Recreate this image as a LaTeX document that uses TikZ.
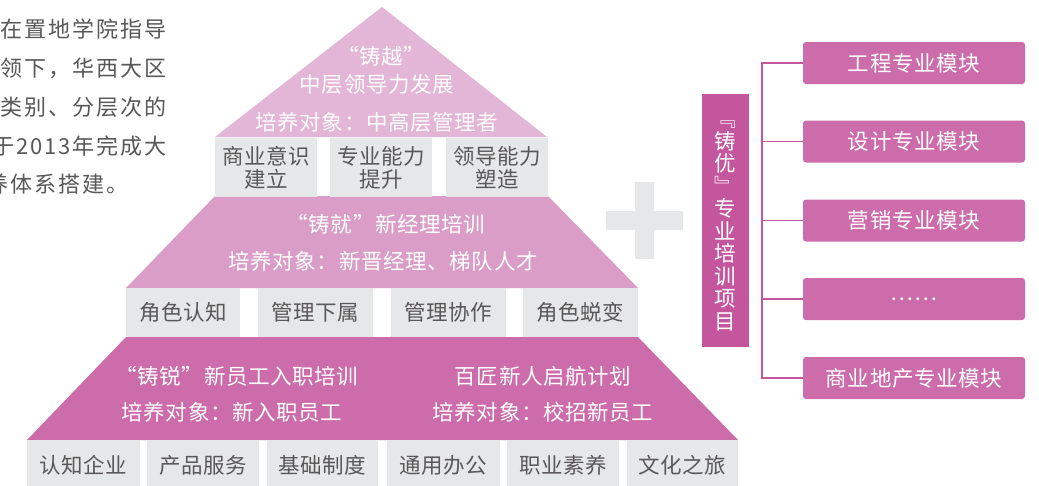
\documentclass[tikz,border=0pt]{standalone}
\usepackage{fontspec}
\setmainfont{Noto Sans CJK SC}
\newfontfamily\cjk{Noto Sans CJK SC}[LetterSpace=3]
\newfontfamily\cjkpara{Noto Sans CJK SC}[LetterSpace=9]
\newfontfamily\cjkplain{Noto Sans CJK SC}
\definecolor{tierA}{HTML}{E3B5D6}
\definecolor{tierB}{HTML}{DA9DC7}
\definecolor{tierC}{HTML}{CC6CAA}
\definecolor{barpink}{HTML}{C4569E}
\definecolor{boxgray}{HTML}{E6E7E8}
\definecolor{txtgray}{HTML}{595757}
\tikzset{
  t20/.style={font=\cjk\fontsize{21.5}{23}\selectfont, inner sep=0pt},
  wtxt/.style={t20, text=white},
  ptxt/.style={font=\cjkpara\fontsize{22}{24}\selectfont, inner sep=0pt, text=txtgray},
  gbox/.style={t20, fill=boxgray, text=txtgray, align=center},
  rbox/.style={t20, fill=tierC, text=white, rounded corners=3pt, minimum width=222, minimum height=42},
  conn/.style={draw=barpink, line width=1.3pt},
}
\begin{document}
\begin{tikzpicture}[x=1pt,y=-1pt]
\useasboundingbox (0,0) rectangle (1039,485);
\fill[white] (0,0) rectangle (1039,485);

% left paragraph (clipped at left edge)
\begin{scope}
\clip (0,0) rectangle (200,485);
\node[ptxt, anchor=east] (p1) at (167,29) {在置地学院指导};
\node[ptxt, anchor=east] (p2) at (167,68) {引领下，华西大区};
\node[ptxt, anchor=east] (p3) at (167,107) {分类别、分层次的};
\node[ptxt, anchor=east] (p4) at (167,146) {并于2013年完成大};
\node[ptxt, anchor=west] (p5) at (-14,184) {养体系搭建。};
\end{scope}

% pyramid tiers
\fill[tierA] (382,7) -- (547,137) -- (215,137) -- cycle;
\fill[tierB] (215,196) -- (548,196) -- (638,288) -- (126,288) -- cycle;
\fill[tierC] (126,337) -- (638,337) -- (738,440) -- (27,440) -- cycle;

% top tier
\node[wtxt] (a1) at (381,56) {“铸越”};
\node[wtxt] (a2) at (377,84) {中层领导力发展};
\node[wtxt] (a3) at (377,122) {培养对象：中高层管理者};
\node[gbox, minimum width=102, minimum height=59] (ab1) at (266,167.5) {商业意识\\建立};
\node[gbox, minimum width=102, minimum height=59] (ab2) at (381,167.5) {专业能力\\提升};
\node[gbox, minimum width=102, minimum height=59] (ab3) at (497,167.5) {领导能力\\塑造};

% middle tier
\node[wtxt] (b1) at (386,224) {“铸就”新经理培训};
\node[wtxt] (b2) at (383,261) {培养对象：新晋经理、梯队人才};
\node[gbox, minimum width=114, minimum height=49] (bb1) at (183,312.5) {角色认知};
\node[gbox, minimum width=115, minimum height=49] (bb2) at (315.5,312.5) {管理下属};
\node[gbox, minimum width=115, minimum height=49] (bb3) at (448.5,312.5) {管理协作};
\node[gbox, minimum width=115, minimum height=49] (bb4) at (580.5,312.5) {角色蜕变};

% bottom tier
\node[wtxt] (c1) at (237,376) {“铸锐”新员工入职培训};
\node[wtxt] (c2) at (232,412) {培养对象：新入职员工};
\node[wtxt] (c3) at (543,376) {百匠新人启航计划};
\node[wtxt] (c4) at (543,412) {培养对象：校招新员工};
\node[gbox, minimum width=113, minimum height=50] (cb1) at (83.5,465) {认知企业};
\node[gbox, minimum width=112, minimum height=50] (cb2) at (203,465) {产品服务};
\node[gbox, minimum width=111, minimum height=50] (cb3) at (322.5,465) {基础制度};
\node[gbox, minimum width=113, minimum height=50] (cb4) at (443.5,465) {通用办公};
\node[gbox, minimum width=112, minimum height=50] (cb5) at (563,465) {职业素养};
\node[gbox, minimum width=111, minimum height=50] (cb6) at (682.5,465) {文化之旅};

% plus sign
\fill[boxgray] (606,211) rectangle (683,230);
\fill[boxgray] (635,182) rectangle (654,259);

% vertical bar
\node[fill=barpink, minimum width=47, minimum height=253, inner sep=0pt] (vbar) at (725.5,220.5) {};
\node[font=\cjkplain\fontsize{21.5}{22.5}\selectfont, text=white, align=center, inner sep=0pt] (vtxt) at (725.5,226)
  {﹃\\铸\\优\\﹄\\专\\业\\培\\训\\项\\目};

% right modules
\node[rbox] (r1) at (914,63) {工程专业模块};
\node[rbox] (r2) at (914,141.5) {设计专业模块};
\node[rbox] (r3) at (914,220.5) {营销专业模块};
\node[rbox] (r4) at (914,299) {……};
\node[rbox] (r5) at (914,378) {商业地产专业模块};

\coordinate (tk) at (762,63);
\draw[conn] (r1.west) -- (r1.west -| tk) -- (r5.west -| tk) -- (r5.west);
\draw[conn] (r2.west) -- (r2.west -| tk);
\draw[conn] (r3.west) -- (r3.west -| tk);
\draw[conn] (r4.west) -- (r4.west -| tk);
\end{tikzpicture}
\end{document}
